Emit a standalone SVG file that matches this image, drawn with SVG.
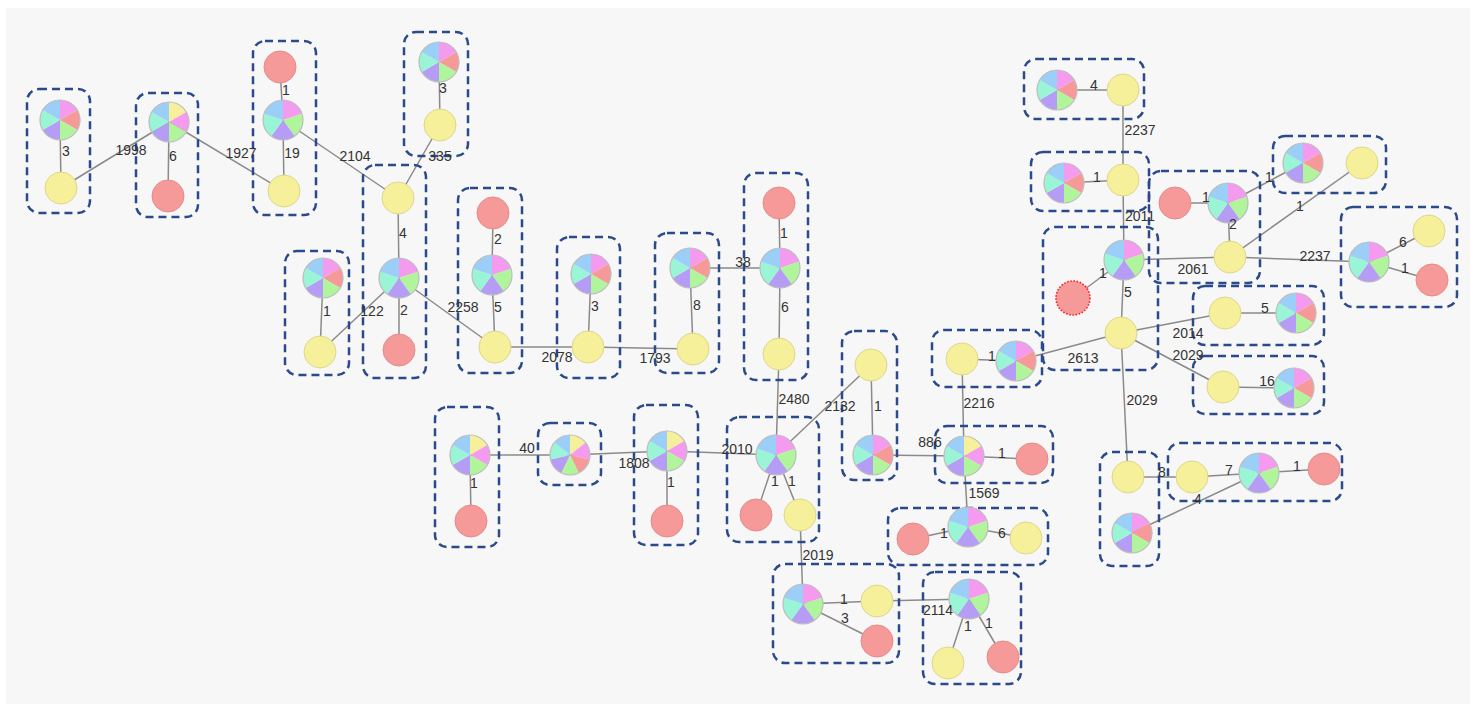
<svg xmlns="http://www.w3.org/2000/svg" xmlns:xlink="http://www.w3.org/1999/xlink" width="1476" height="709" viewBox="0 0 1476 709">
<style>
.e{stroke:#8a8a8a;stroke-width:1.5;fill:none}
.l{font-family:"Liberation Sans",Arial,sans-serif;font-size:14px;fill:#333;text-anchor:middle}
.box{fill:none;stroke:#2b4a8a;stroke-width:2.5;stroke-dasharray:8 5}
.y{fill:#f7f09b;stroke:#ddd68c;stroke-width:1}
.r{fill:#f59999;stroke:#e48c8c;stroke-width:1}
.rd{fill:#f59999;stroke:#ff2020;stroke-width:1.6;stroke-dasharray:1.6 1.6}
.ol{fill:none;stroke:#bdbdbd;stroke-width:1.2}
</style>
<defs>
<g id="p6">
<path d="M0,0L0,-20A20,20 0 0,1 17.32,-10Z" fill="#f59bef"/>
<path d="M0,0L17.32,-10A20,20 0 0,1 17.32,10Z" fill="#f59a98"/>
<path d="M0,0L17.32,10A20,20 0 0,1 0,20Z" fill="#b0f59b"/>
<path d="M0,0L0,20A20,20 0 0,1 -17.32,10Z" fill="#b59cf4"/>
<path d="M0,0L-17.32,10A20,20 0 0,1 -17.32,-10Z" fill="#9af4d6"/>
<path d="M0,0L-17.32,-10A20,20 0 0,1 0,-20Z" fill="#9ccff7"/>
<circle r="20" class="ol"/>
</g>
<g id="p6y">
<path d="M0,0L0,-20A20,20 0 0,1 17.32,-10Z" fill="#f7f09b"/>
<path d="M0,0L17.32,-10A20,20 0 0,1 17.32,10Z" fill="#f59bef"/>
<path d="M0,0L17.32,10A20,20 0 0,1 0,20Z" fill="#b0f59b"/>
<path d="M0,0L0,20A20,20 0 0,1 -17.32,10Z" fill="#b59cf4"/>
<path d="M0,0L-17.32,10A20,20 0 0,1 -17.32,-10Z" fill="#9af4d6"/>
<path d="M0,0L-17.32,-10A20,20 0 0,1 0,-20Z" fill="#9ccff7"/>
<circle r="20" class="ol"/>
</g>
<g id="p5">
<path d="M0,0L0,-20A20,20 0 0,1 19.02,-6.18Z" fill="#f59bef"/>
<path d="M0,0L19.02,-6.18A20,20 0 0,1 11.76,16.18Z" fill="#b0f59b"/>
<path d="M0,0L11.76,16.18A20,20 0 0,1 -11.76,16.18Z" fill="#b59cf4"/>
<path d="M0,0L-11.76,16.18A20,20 0 0,1 -19.02,-6.18Z" fill="#9af4d6"/>
<path d="M0,0L-19.02,-6.18A20,20 0 0,1 0,-20Z" fill="#9ccff7"/>
<circle r="20" class="ol"/>
</g>
<g id="p7">
<path d="M0,0L0,-20A20,20 0 0,1 15.64,-12.47Z" fill="#f7f09b"/>
<path d="M0,0L15.64,-12.47A20,20 0 0,1 19.5,4.45Z" fill="#f59bef"/>
<path d="M0,0L19.5,4.45A20,20 0 0,1 8.68,18.02Z" fill="#f59a98"/>
<path d="M0,0L8.68,18.02A20,20 0 0,1 -8.68,18.02Z" fill="#b0f59b"/>
<path d="M0,0L-8.68,18.02A20,20 0 0,1 -19.5,4.45Z" fill="#b59cf4"/>
<path d="M0,0L-19.5,4.45A20,20 0 0,1 -15.64,-12.47Z" fill="#9af4d6"/>
<path d="M0,0L-15.64,-12.47A20,20 0 0,1 0,-20Z" fill="#9ccff7"/>
<circle r="20" class="ol"/>
</g>
</defs>
<rect x="0" y="0" width="1476" height="709" fill="#ffffff"/>
<rect x="6" y="8" width="1464" height="696" fill="#f7f7f7"/>
<g id="connectors">
<line class="e" x1="60" y1="120" x2="61" y2="188"/>
<line class="e" x1="61" y1="188" x2="169" y2="122"/>
<line class="e" x1="169" y1="122" x2="168" y2="196"/>
<line class="e" x1="169" y1="122" x2="284" y2="191"/>
<line class="e" x1="280" y1="67" x2="283" y2="120"/>
<line class="e" x1="283" y1="120" x2="284" y2="191"/>
<line class="e" x1="283" y1="120" x2="398" y2="198"/>
<line class="e" x1="439" y1="62" x2="440" y2="125"/>
<line class="e" x1="440" y1="125" x2="398" y2="198"/>
<line class="e" x1="398" y1="198" x2="399" y2="278"/>
<line class="e" x1="399" y1="278" x2="399" y2="350"/>
<line class="e" x1="323" y1="278" x2="320" y2="352"/>
<line class="e" x1="320" y1="352" x2="399" y2="278"/>
<line class="e" x1="399" y1="278" x2="495" y2="347"/>
<line class="e" x1="493" y1="213" x2="492" y2="275"/>
<line class="e" x1="492" y1="275" x2="495" y2="347"/>
<line class="e" x1="495" y1="347" x2="588" y2="347"/>
<line class="e" x1="591" y1="274" x2="588" y2="347"/>
<line class="e" x1="588" y1="347" x2="693" y2="349"/>
<line class="e" x1="690" y1="268" x2="693" y2="349"/>
<line class="e" x1="690" y1="268" x2="780" y2="268"/>
<line class="e" x1="779" y1="203" x2="780" y2="268"/>
<line class="e" x1="780" y1="268" x2="779" y2="354"/>
<line class="e" x1="779" y1="354" x2="776" y2="455"/>
<line class="e" x1="776" y1="455" x2="871" y2="365"/>
<line class="e" x1="871" y1="365" x2="873" y2="455"/>
<line class="e" x1="873" y1="455" x2="964" y2="456"/>
<line class="e" x1="962" y1="359" x2="1016" y2="361"/>
<line class="e" x1="962" y1="359" x2="964" y2="456"/>
<line class="e" x1="964" y1="456" x2="1032" y2="459"/>
<line class="e" x1="964" y1="456" x2="968" y2="527"/>
<line class="e" x1="913" y1="539" x2="968" y2="527"/>
<line class="e" x1="968" y1="527" x2="1026" y2="538"/>
<line class="e" x1="1016" y1="361" x2="1121" y2="333"/>
<line class="e" x1="470" y1="455" x2="471" y2="521"/>
<line class="e" x1="470" y1="455" x2="570" y2="455"/>
<line class="e" x1="570" y1="455" x2="667" y2="451"/>
<line class="e" x1="667" y1="451" x2="667" y2="521"/>
<line class="e" x1="667" y1="451" x2="776" y2="455"/>
<line class="e" x1="776" y1="455" x2="756" y2="515"/>
<line class="e" x1="776" y1="455" x2="800" y2="515"/>
<line class="e" x1="800" y1="515" x2="803" y2="604"/>
<line class="e" x1="803" y1="604" x2="877" y2="601"/>
<line class="e" x1="803" y1="604" x2="877" y2="641"/>
<line class="e" x1="877" y1="601" x2="969" y2="599"/>
<line class="e" x1="969" y1="599" x2="948" y2="663"/>
<line class="e" x1="969" y1="599" x2="1003" y2="657"/>
<line class="e" x1="1057" y1="90" x2="1123" y2="90"/>
<line class="e" x1="1123" y1="90" x2="1123" y2="180"/>
<line class="e" x1="1064" y1="183" x2="1123" y2="180"/>
<line class="e" x1="1123" y1="180" x2="1124" y2="260"/>
<line class="e" x1="1124" y1="260" x2="1073" y2="298"/>
<line class="e" x1="1124" y1="260" x2="1121" y2="333"/>
<line class="e" x1="1124" y1="260" x2="1230" y2="257"/>
<line class="e" x1="1175" y1="203" x2="1228" y2="203"/>
<line class="e" x1="1228" y1="203" x2="1230" y2="257"/>
<line class="e" x1="1228" y1="203" x2="1303" y2="163"/>
<line class="e" x1="1230" y1="257" x2="1362" y2="163"/>
<line class="e" x1="1230" y1="257" x2="1369" y2="262"/>
<line class="e" x1="1369" y1="262" x2="1429" y2="231"/>
<line class="e" x1="1369" y1="262" x2="1432" y2="280"/>
<line class="e" x1="1121" y1="333" x2="1225" y2="313"/>
<line class="e" x1="1225" y1="313" x2="1296" y2="313"/>
<line class="e" x1="1121" y1="333" x2="1223" y2="387"/>
<line class="e" x1="1223" y1="387" x2="1294" y2="388"/>
<line class="e" x1="1121" y1="333" x2="1128" y2="477"/>
<line class="e" x1="1128" y1="477" x2="1192" y2="477"/>
<line class="e" x1="1192" y1="477" x2="1259" y2="473"/>
<line class="e" x1="1259" y1="473" x2="1324" y2="469"/>
<line class="e" x1="1132" y1="533" x2="1259" y2="473"/>
</g>
<g id="clusterA"><rect class="box" x="27" y="89" width="63" height="124" rx="12"/><use href="#p6" x="60" y="120"/><circle class="y" cx="61" cy="188" r="16"/></g>
<g id="clusterB"><rect class="box" x="136" y="93" width="62" height="124" rx="12"/><use href="#p6y" x="169" y="122"/><circle class="r" cx="168" cy="196" r="16"/></g>
<g id="clusterC"><rect class="box" x="253" y="41" width="63" height="174" rx="12"/><circle class="r" cx="280" cy="67" r="16"/><use href="#p5" x="283" y="120"/><circle class="y" cx="284" cy="191" r="16"/></g>
<g id="clusterD"><rect class="box" x="363" y="165" width="63" height="213" rx="12"/><circle class="y" cx="398" cy="198" r="16"/><use href="#p5" x="399" y="278"/><circle class="r" cx="399" cy="350" r="16"/></g>
<g id="clusterE"><rect class="box" x="404" y="32" width="64" height="124" rx="12"/><use href="#p6" x="439" y="62"/><circle class="y" cx="440" cy="125" r="16"/></g>
<g id="clusterF"><rect class="box" x="285" y="251" width="64" height="124" rx="12"/><use href="#p6" x="323" y="278"/><circle class="y" cx="320" cy="352" r="16"/></g>
<g id="clusterG"><rect class="box" x="458" y="188" width="64" height="185" rx="12"/><circle class="r" cx="493" cy="213" r="16"/><use href="#p5" x="492" y="275"/><circle class="y" cx="495" cy="347" r="16"/></g>
<g id="clusterH"><rect class="box" x="557" y="237" width="63" height="141" rx="12"/><use href="#p6" x="591" y="274"/><circle class="y" cx="588" cy="347" r="16"/></g>
<g id="clusterI"><rect class="box" x="655" y="233" width="64" height="140" rx="12"/><use href="#p6" x="690" y="268"/><circle class="y" cx="693" cy="349" r="16"/></g>
<g id="clusterJ"><rect class="box" x="744" y="173" width="64" height="207" rx="12"/><circle class="r" cx="779" cy="203" r="16"/><use href="#p5" x="780" y="268"/><circle class="y" cx="779" cy="354" r="16"/></g>
<g id="clusterK"><rect class="box" x="727" y="417" width="92" height="125" rx="12"/><use href="#p5" x="776" y="455"/><circle class="r" cx="756" cy="515" r="16"/><circle class="y" cx="800" cy="515" r="16"/></g>
<g id="clusterL"><rect class="box" x="842" y="331" width="55" height="149" rx="12"/><circle class="y" cx="871" cy="365" r="16"/><use href="#p6" x="873" y="455"/></g>
<g id="clusterN"><rect class="box" x="935" y="426" width="118" height="57" rx="12"/><use href="#p6y" x="964" y="456"/><circle class="r" cx="1032" cy="459" r="16"/></g>
<g id="clusterO"><rect class="box" x="932" y="330" width="110" height="57" rx="12"/><circle class="y" cx="962" cy="359" r="16"/><use href="#p6" x="1016" y="361"/></g>
<g id="clusterQ"><rect class="box" x="888" y="508" width="160" height="57" rx="12"/><circle class="r" cx="913" cy="539" r="16"/><use href="#p5" x="968" y="527"/><circle class="y" cx="1026" cy="538" r="16"/></g>
<g id="clusterR"><rect class="box" x="435" y="407" width="64" height="140" rx="12"/><use href="#p6y" x="470" y="455"/><circle class="r" cx="471" cy="521" r="16"/></g>
<g id="clusterS"><rect class="box" x="538" y="423" width="63" height="62" rx="12"/><use href="#p7" x="570" y="455"/></g>
<g id="clusterT"><rect class="box" x="634" y="405" width="64" height="140" rx="12"/><use href="#p6y" x="667" y="451"/><circle class="r" cx="667" cy="521" r="16"/></g>
<g id="clusterU"><rect class="box" x="773" y="564" width="126" height="99" rx="12"/><use href="#p5" x="803" y="604"/><circle class="y" cx="877" cy="601" r="16"/><circle class="r" cx="877" cy="641" r="16"/></g>
<g id="clusterV"><rect class="box" x="923" y="572" width="98" height="112" rx="12"/><use href="#p5" x="969" y="599"/><circle class="y" cx="948" cy="663" r="16"/><circle class="r" cx="1003" cy="657" r="16"/></g>
<g id="clusterW"><rect class="box" x="1024" y="59" width="120" height="60" rx="12"/><use href="#p6" x="1057" y="90"/><circle class="y" cx="1123" cy="90" r="16"/></g>
<g id="clusterX"><rect class="box" x="1031" y="152" width="118" height="59" rx="12"/><use href="#p6" x="1064" y="183"/><circle class="y" cx="1123" cy="180" r="16"/></g>
<g id="clusterY"><rect class="box" x="1043" y="227" width="115" height="143" rx="12"/><use href="#p5" x="1124" y="260"/><circle class="rd" cx="1073" cy="298" r="17"/><circle class="y" cx="1121" cy="333" r="16"/></g>
<g id="clusterZ"><rect class="box" x="1149" y="171" width="111" height="112" rx="12"/><circle class="r" cx="1175" cy="203" r="16"/><use href="#p5" x="1228" y="203"/><circle class="y" cx="1230" cy="257" r="16"/></g>
<g id="clusterAA"><rect class="box" x="1273" y="136" width="113" height="57" rx="12"/><use href="#p6" x="1303" y="163"/><circle class="y" cx="1362" cy="163" r="16"/></g>
<g id="clusterAB"><rect class="box" x="1341" y="207" width="116" height="100" rx="12"/><use href="#p5" x="1369" y="262"/><circle class="y" cx="1429" cy="231" r="16"/><circle class="r" cx="1432" cy="280" r="16"/></g>
<g id="clusterAC"><rect class="box" x="1193" y="286" width="131" height="59" rx="12"/><circle class="y" cx="1225" cy="313" r="16"/><use href="#p6" x="1296" y="313"/></g>
<g id="clusterAD"><rect class="box" x="1193" y="356" width="131" height="58" rx="12"/><circle class="y" cx="1223" cy="387" r="16"/><use href="#p6" x="1294" y="388"/></g>
<g id="clusterAE"><rect class="box" x="1100" y="452" width="59" height="114" rx="12"/><circle class="y" cx="1128" cy="477" r="16"/><use href="#p6" x="1132" y="533"/></g>
<g id="clusterAF"><rect class="box" x="1168" y="443" width="174" height="58" rx="12"/><circle class="y" cx="1192" cy="477" r="16"/><use href="#p5" x="1259" y="473"/><circle class="r" cx="1324" cy="469" r="16"/></g>
<g id="edge-labels">
<text class="l" x="66" y="156">3</text>
<text class="l" x="131" y="155">1998</text>
<text class="l" x="173" y="161">6</text>
<text class="l" x="241" y="158">1927</text>
<text class="l" x="286" y="95">1</text>
<text class="l" x="292" y="158">19</text>
<text class="l" x="355" y="161">2104</text>
<text class="l" x="443" y="93">3</text>
<text class="l" x="440" y="161">335</text>
<text class="l" x="403" y="238">4</text>
<text class="l" x="404" y="315">2</text>
<text class="l" x="327" y="316">1</text>
<text class="l" x="372" y="316">122</text>
<text class="l" x="463" y="312">2258</text>
<text class="l" x="498" y="244">2</text>
<text class="l" x="498" y="312">5</text>
<text class="l" x="557" y="362">2078</text>
<text class="l" x="595" y="311">3</text>
<text class="l" x="655" y="363">1793</text>
<text class="l" x="697" y="310">8</text>
<text class="l" x="743" y="267">38</text>
<text class="l" x="784" y="238">1</text>
<text class="l" x="785" y="312">6</text>
<text class="l" x="794" y="404">2480</text>
<text class="l" x="840" y="411">2132</text>
<text class="l" x="878" y="411">1</text>
<text class="l" x="930" y="447">886</text>
<text class="l" x="992" y="361">1</text>
<text class="l" x="979" y="408">2216</text>
<text class="l" x="1002" y="458">1</text>
<text class="l" x="984" y="498">1569</text>
<text class="l" x="944" y="538">1</text>
<text class="l" x="1002" y="538">6</text>
<text class="l" x="1083" y="363">2613</text>
<text class="l" x="474" y="488">1</text>
<text class="l" x="527" y="453">40</text>
<text class="l" x="634" y="468">1808</text>
<text class="l" x="671" y="487">1</text>
<text class="l" x="737" y="454">2010</text>
<text class="l" x="775" y="486">1</text>
<text class="l" x="792" y="486">1</text>
<text class="l" x="818" y="560">2019</text>
<text class="l" x="844" y="604">1</text>
<text class="l" x="845" y="623">3</text>
<text class="l" x="938" y="615">2114</text>
<text class="l" x="968" y="631">1</text>
<text class="l" x="989" y="628">1</text>
<text class="l" x="1094" y="90">4</text>
<text class="l" x="1140" y="135">2237</text>
<text class="l" x="1097" y="182">1</text>
<text class="l" x="1140" y="221">2011</text>
<text class="l" x="1103" y="278">1</text>
<text class="l" x="1128" y="297">5</text>
<text class="l" x="1193" y="274">2061</text>
<text class="l" x="1206" y="202">1</text>
<text class="l" x="1233" y="229">2</text>
<text class="l" x="1269" y="182">1</text>
<text class="l" x="1300" y="211">1</text>
<text class="l" x="1315" y="261">2237</text>
<text class="l" x="1403" y="247">6</text>
<text class="l" x="1405" y="273">1</text>
<text class="l" x="1188" y="338">2014</text>
<text class="l" x="1265" y="313">5</text>
<text class="l" x="1188" y="360">2029</text>
<text class="l" x="1267" y="386">16</text>
<text class="l" x="1142" y="405">2029</text>
<text class="l" x="1162" y="477">8</text>
<text class="l" x="1229" y="475">7</text>
<text class="l" x="1297" y="471">1</text>
<text class="l" x="1198" y="504">4</text>
</g>
</svg>
